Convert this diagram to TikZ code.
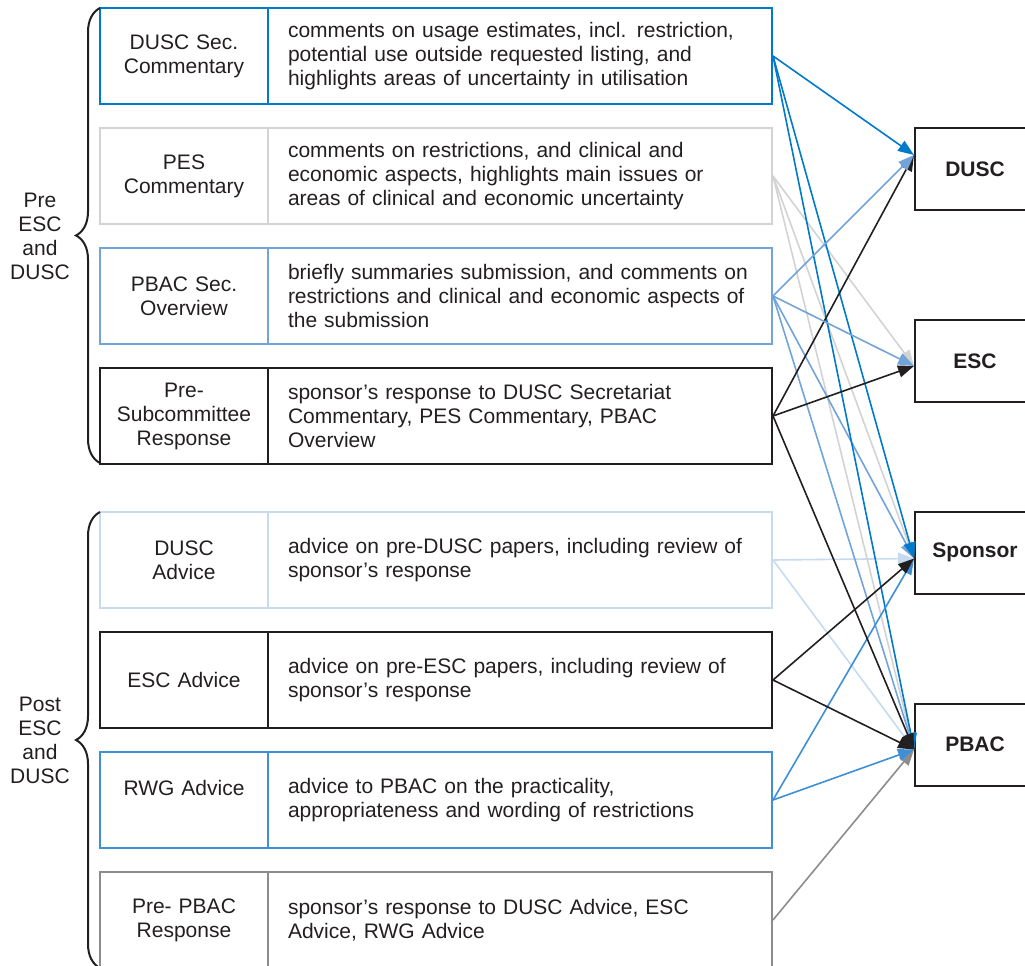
\documentclass[tikz,border=0pt]{standalone}
\usepackage{fontspec}
\setmainfont{Liberation Sans}
\usetikzlibrary{arrows.meta,decorations.pathreplacing}
\definecolor{cA}{RGB}{0,122,201}
\definecolor{cB}{RGB}{211,211,211}
\definecolor{cC}{RGB}{114,164,217}
\definecolor{cK}{RGB}{35,31,32}
\definecolor{cE}{RGB}{198,218,240}
\definecolor{cG}{RGB}{62,143,214}
\definecolor{cH}{RGB}{140,140,140}
\begin{document}
\begin{tikzpicture}[x=1pt,y=-1pt,
  every node/.style={font=\fontsize{21}{24}\selectfont, text=cK},
  lab/.style={draw, line width=2pt, minimum width=168pt, minimum height=96pt, text width=160pt, align=center, inner xsep=4pt, inner ysep=0pt},
  desc/.style={draw, line width=2pt, minimum width=504pt, minimum height=96pt, text width=464pt, align=left, inner xsep=20pt, inner ysep=0pt},
  tgt/.style={draw=cK, line width=2pt, minimum width=120pt, minimum height=82pt, font=\fontsize{21}{24}\selectfont\bfseries},
  conn/.style={line width=1.6pt, -{Triangle[length=16pt,width=12pt]}},
  brc/.style={decorate, decoration={brace, amplitude=24pt}, line width=2pt, draw=cK},
  side/.style={align=center}]
\useasboundingbox (0,0) rectangle (1025,966);

% left column boxes
\node[lab, draw=cA] (l1) at (184,56) {DUSC Sec.\\Commentary};
\node[desc, draw=cA] (d1) at (520,56) {comments on usage estimates, incl. restriction,\\potential use outside requested listing, and\\highlights areas of uncertainty in utilisation};
\node[lab, draw=cB] (l2) at (184,176) {PES\\Commentary};
\node[desc, draw=cB] (d2) at (520,176) {comments on restrictions, and clinical and\\economic aspects, highlights main issues or\\areas of clinical and economic uncertainty};
\node[lab, draw=cC] (l3) at (184,296) {PBAC Sec.\\Overview};
\node[desc, draw=cC] (d3) at (520,296) {briefly summaries submission, and comments on\\restrictions and clinical and economic aspects of\\the submission};
\node[lab, draw=cK] (l4) at (184,416) {Pre-\\Subcommittee\\Response};
\node[desc, draw=cK] (d4) at (520,416) {sponsor’s response to DUSC Secretariat\\Commentary, PES Commentary, PBAC\\Overview};

\node[lab, draw=cE] (l5) at (184,560) {DUSC\\Advice};
\node[desc, draw=cE] (d5) at (520,560) {advice on pre-DUSC papers, including review of\\sponsor’s response};
\node[lab, draw=cK] (l6) at (184,680) {ESC Advice};
\node[desc, draw=cK] (d6) at (520,680) {advice on pre-ESC papers, including review of\\sponsor’s response};
\node[lab, draw=cG] (l7) at (184,800) {RWG Advice\\\mbox{}};
\node[desc, draw=cG] (d7) at (520,800) {advice to PBAC on the practicality,\\appropriateness and wording of restrictions};
\node[lab, draw=cH] (l8) at (184,920) {Pre- PBAC\\Response};
\node[desc, draw=cH] (d8) at (520,920) {sponsor’s response to DUSC Advice, ESC\\Advice, RWG Advice};

% braces and side labels
\draw[brc] (100,463) -- (100,8);
\draw[brc] (100,968) -- (100,512);
\node[side] (pre) at (40,236) {Pre\\ESC\\and\\DUSC};
\node[side] (post) at (40,740) {Post\\ESC\\and\\DUSC};

% targets
\node[tgt] (DUSC) at (975,169) {DUSC};
\node[tgt] (ESC) at (975,361) {ESC};
\node[tgt] (Sponsor) at (975,552.5) {Sponsor};
\node[tgt] (PBAC) at (975,744.5) {PBAC};

\coordinate (pD) at ([yshift=14pt]DUSC.west);
\coordinate (pE) at ([yshift=-5pt]ESC.west);
\coordinate (pS) at ([yshift=-6pt]Sponsor.west);
\coordinate (pP) at ([yshift=-5pt]PBAC.west);

% connectors
\draw[conn, cH] (d8.east) -- (pP);
\draw[conn, cE] (d5.east) -- (pP);
\draw[conn, cE] (d5.east) -- (pS);
\draw[conn, cB] (d2.east) -- (pE);
\draw[conn, cB] (d2.east) -- (pS);
\draw[conn, cB] (d2.east) -- (pP);
\draw[conn, cC] (d3.east) -- (pS);
\draw[conn, cC] (d3.east) -- (pP);
\draw[conn, cA] (d1.east) -- (pS);
\draw[conn, cA] (d1.east) -- (pP);
\draw[conn, cK] (d4.east) -- (pD);
\draw[conn, cK] (d4.east) -- (pE);
\draw[conn, cC] (d3.east) -- (pE);
\draw[conn, cC] (d3.east) -- (pD);
\draw[conn, cA] (d1.east) -- (pD);
\draw[conn, cG] (d7.east) -- (pS);
\draw[conn, cG] (d7.east) -- (pP);
\draw[conn, cK] (d6.east) -- (pS);
\draw[conn, cK] (d6.east) -- (pP);
\draw[conn, cK] (d4.east) -- (pP);
\end{tikzpicture}
\end{document}
